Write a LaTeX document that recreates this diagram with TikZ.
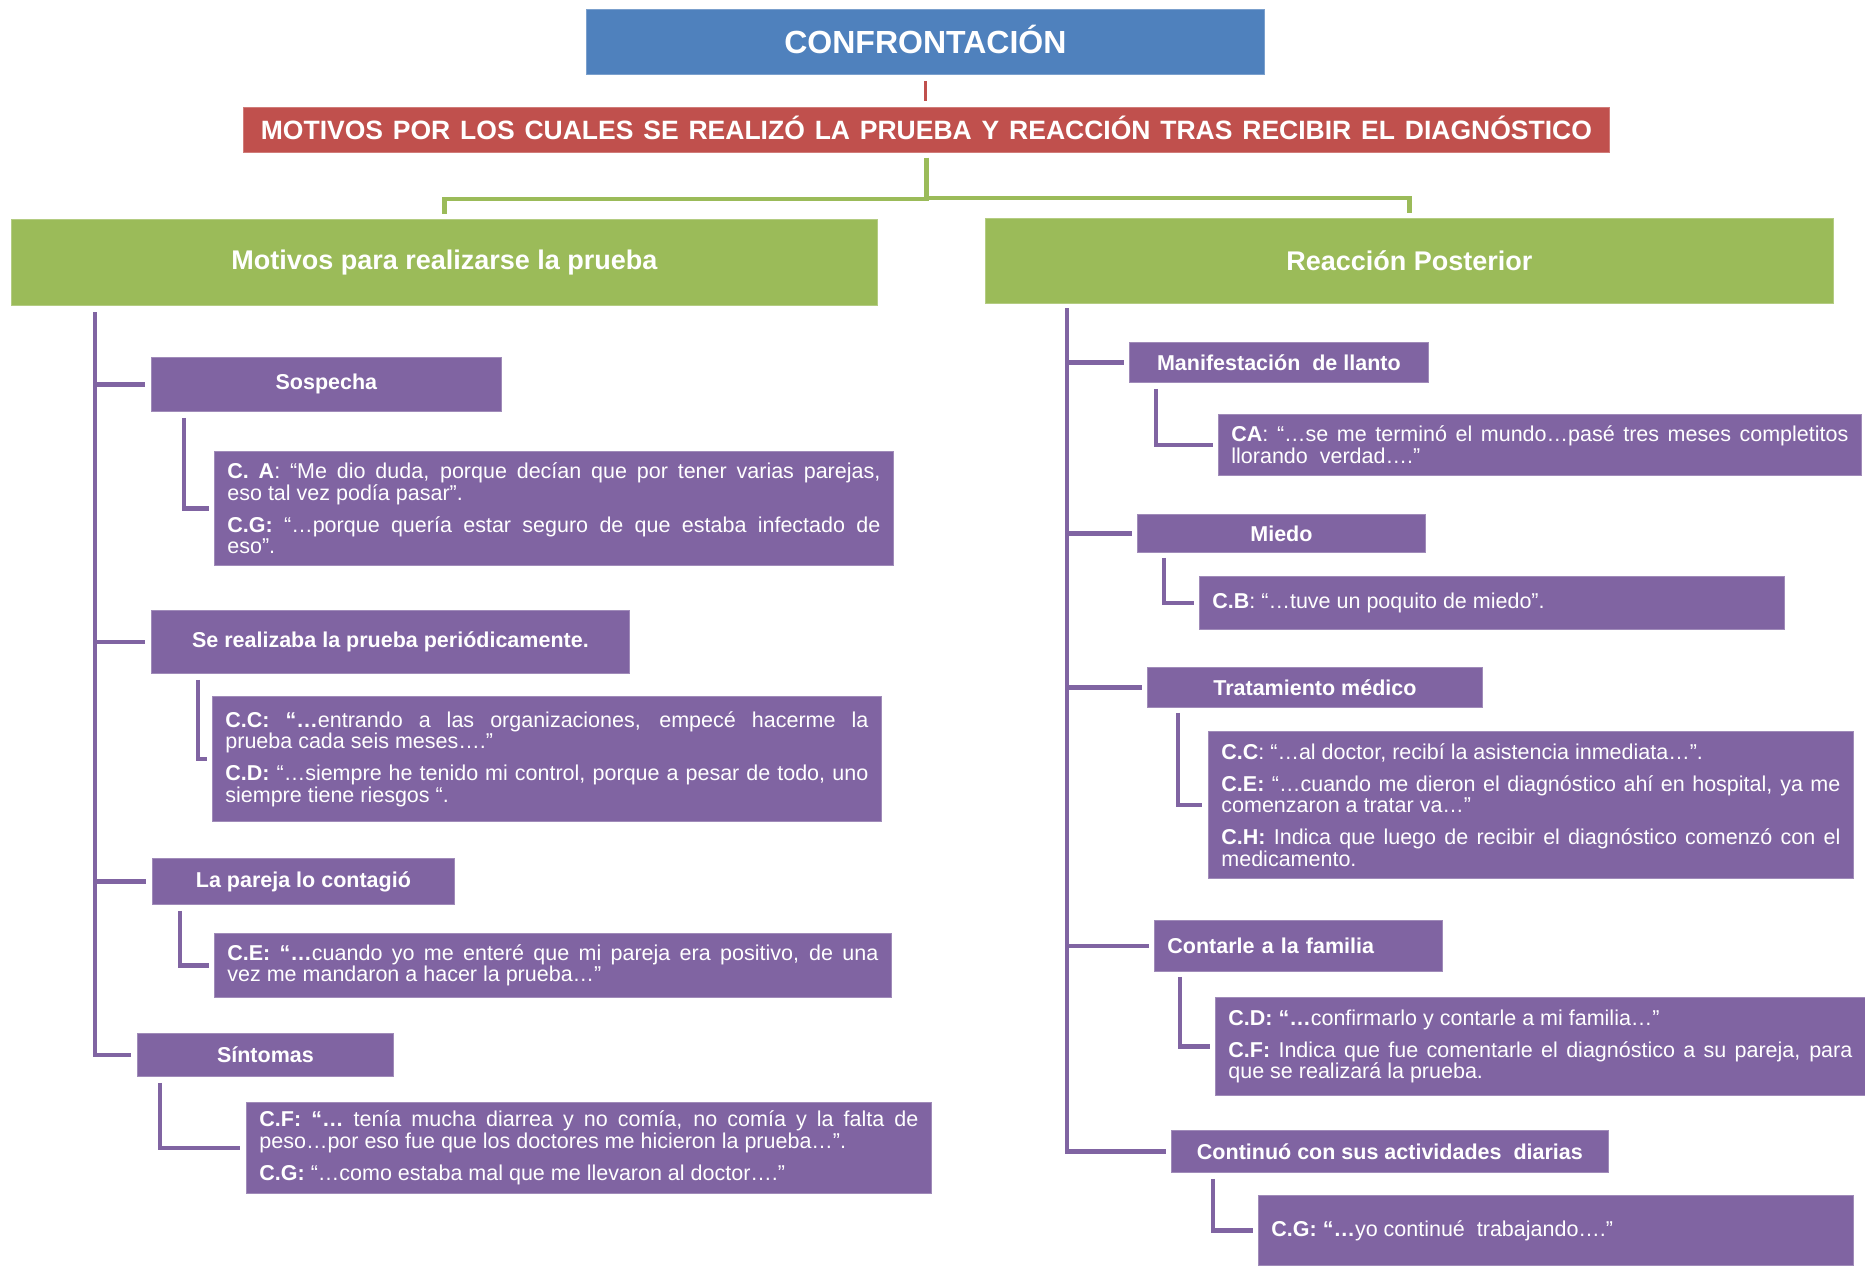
\documentclass[tikz,border=0pt]{standalone}
\usepackage{fontspec}
\setmainfont{Liberation Sans}
\definecolor{hdrblue}{HTML}{4F81BD}
\definecolor{hdrred}{HTML}{C0504D}
\definecolor{hdrgreen}{HTML}{9BBB59}
\definecolor{lila}{HTML}{8064A2}
\hyphenpenalty=10000
\exhyphenpenalty=10000
\tolerance=9999
\begin{document}
\begin{tikzpicture}[x=1pt,y=-1pt,
  topbox/.style={anchor=north west, inner sep=0pt, text=white},
  hdr/.style={anchor=north west, inner sep=0pt, text=white, fill=lila,
    draw=lila!75!white, line width=0.8pt,
    font=\bfseries\fontsize{21.5}{24}\selectfont},
  quote/.style={anchor=north west, inner xsep=13pt, inner ysep=0pt, text=white,
    align=justify, fill=lila, draw=lila!75!white, line width=0.8pt,
    font=\fontsize{21.5}{21.5}\selectfont},
  pline/.style={draw=lila, line width=4.5pt},
  gline/.style={draw=hdrgreen, line width=4.5pt},
  rline/.style={draw=hdrred, line width=3pt}
]
\useasboundingbox[fill=white] (0,0) rectangle (1865,1267);

% --- title levels ---
\node[topbox, fill=hdrblue, draw=hdrblue!75!white, line width=0.8pt,
  minimum width=678pt, minimum height=65pt, text height=23pt, text depth=0pt,
  font=\bfseries\fontsize{32}{36}\selectfont] (conf) at (586,9) {CONFRONTACIÓN};
\node[topbox, fill=hdrred, draw=hdrred!75!white, line width=0.8pt,
  minimum width=1366pt, minimum height=45pt, text height=19pt, text depth=0pt,
  font=\bfseries\fontsize{26.5}{30}\selectfont] (moti) at (243,107)
  {\makebox[1331pt][s]{MOTIVOS POR LOS CUALES SE REALIZÓ LA PRUEBA Y REACCIÓN TRAS RECIBIR EL DIAGNÓSTICO}};
\node[topbox, fill=hdrgreen, draw=hdrgreen!75!white, line width=0.8pt,
  minimum width=866pt, minimum height=86pt,
  font=\bfseries\fontsize{27}{30}\selectfont] (gl) at (11,219) {Motivos para realizarse la prueba};
\node[topbox, fill=hdrgreen, draw=hdrgreen!75!white, line width=0.8pt,
  minimum width=848pt, minimum height=85pt,
  font=\bfseries\fontsize{27}{30}\selectfont] (gr) at (985,218) {Reacción Posterior};

\draw[rline] ([yshift=-6pt]conf.south) -- ([yshift=6pt]conf.south |- moti.north);
\draw[gline] ([yshift=-5pt]moti.south) |- ([yshift=20pt]gl.north) -- ([yshift=5pt]gl.north);
\draw[gline] ([yshift=-5pt]moti.south) |- ([yshift=20pt]gr.north) -- ([yshift=5pt]gr.north);

% --- left column ---
\node[hdr, minimum width=350pt, minimum height=54pt] (sosp) at (151,357) {Sospecha};
\node[quote, text width=653pt, minimum height=114pt] (q1) at (214,451)
  {\textbf{C. A}: “Me dio duda, porque decían que por tener varias parejas,\linebreak
   eso tal vez podía pasar”.\par\vspace{10.5pt}
   \textbf{C.G:} “…porque quería estar seguro de que estaba infectado de\linebreak eso”.};

\node[hdr, minimum width=478pt, minimum height=63pt] (peri) at (151,610) {Se realizaba la prueba periódicamente.};
\node[quote, text width=643pt, minimum height=125pt] (q2) at (212,696)
  {\textbf{C.C: “…}entrando a las organizaciones, empecé hacerme la\linebreak
   prueba cada seis meses….”\par\vspace{10.5pt}
   \textbf{C.D:} “…siempre he tenido mi control, porque a pesar de todo, uno\linebreak
   siempre tiene riesgos “.};

\node[hdr, minimum width=302pt, minimum height=46pt] (pare) at (152,858) {La pareja lo contagió};
\node[quote, text width=651pt, minimum height=64pt] (q3) at (214,933)
  {\textbf{C.E: “…}cuando yo me enteré que mi pareja era positivo, de una\linebreak
   vez me mandaron a hacer la prueba…”};

\node[hdr, minimum width=256pt, minimum height=43pt] (sint) at (137,1033) {Síntomas};
\node[quote, text width=659pt, minimum height=91pt] (q4) at (246,1102)
  {\textbf{C.F: “…} tenía mucha diarrea y no comía, no comía y la falta de\linebreak
   peso…por eso fue que los doctores me hicieron la prueba…”.\par\vspace{10.5pt}
   \textbf{C.G:} “…como estaba mal que me llevaron al doctor….”};

\coordinate (spl) at (95,312);
\draw[pline] (spl) |- ([xshift=-6pt]sint.west);
\foreach \b in {sosp,peri,pare}
  \draw[pline] (spl |- \b.west) -- ([xshift=-6pt]\b.west);
\draw[pline] ([xshift=33pt,yshift=-6pt]sosp.south west) |- ([xshift=-5pt]q1.west);
\draw[pline] ([xshift=47pt,yshift=-6pt]peri.south west) |- ([xshift=-5pt]q2.west);
\draw[pline] ([xshift=28pt,yshift=-6pt]pare.south west) |- ([xshift=-5pt]q3.west);
\draw[pline] ([xshift=23pt,yshift=-6pt]sint.south west) |- ([xshift=-6pt]q4.west);

% --- right column ---
\node[hdr, minimum width=299pt, minimum height=40pt] (mani) at (1129,342) {Manifestación\ \ de llanto};
\node[quote, text width=617pt, minimum height=61pt] (r1) at (1218,414)
  {\textbf{CA}: “…se me terminó el mundo…pasé tres meses completitos\linebreak
   llorando\ \ verdad….”};

\node[hdr, minimum width=288pt, minimum height=38pt] (mied) at (1137,514) {Miedo};
\node[quote, text width=559pt, minimum height=53pt] (r2) at (1199,576)
  {\textbf{C.B}: “…tuve un poquito de miedo”.};

\node[hdr, minimum width=335pt, minimum height=40pt] (trat) at (1147,667) {Tratamiento médico};
\node[quote, text width=619pt, minimum height=147pt] (r3) at (1208,731)
  {\textbf{C.C}: “…al doctor, recibí la asistencia inmediata…”.\par\vspace{10.5pt}
   \textbf{C.E:} “…cuando me dieron el diagnóstico ahí en hospital, ya me\linebreak
   comenzaron a tratar va…”\par\vspace{10.5pt}
   \textbf{C.H:} Indica que luego de recibir el diagnóstico comenzó con el\linebreak
   medicamento.};

\node[hdr, minimum width=288pt, minimum height=51pt, text width=262pt, align=left,
  inner xsep=13pt] (fami) at (1154,920) {Contarle a la familia};
\node[quote, text width=624pt, minimum height=98pt] (r4) at (1215,997)
  {\textbf{C.D: “…}confirmarlo y contarle a mi familia…”\par\vspace{10.5pt}
   \textbf{C.F:} Indica que fue comentarle el diagnóstico a su pareja, para\linebreak
   que se realizará la prueba.};

\node[hdr, minimum width=437pt, minimum height=42pt] (cont) at (1171,1130) {Continuó con sus actividades\ \ diarias};
\node[quote, text width=569pt, minimum height=70pt] (r5) at (1258,1195)
  {\textbf{C.G: “…}yo continué\ \ trabajando….”};

\coordinate (spr) at (1067,308);
\draw[pline] (spr) |- ([xshift=-5pt]cont.west);
\foreach \b in {mani,mied,trat,fami}
  \draw[pline] (spr |- \b.west) -- ([xshift=-5pt]\b.west);
\draw[pline] ([xshift=27pt,yshift=-6pt]mani.south west) |- ([xshift=-5pt]r1.west);
\draw[pline] ([xshift=27pt,yshift=-5pt]mied.south west) |- ([xshift=-5pt]r2.west);
\draw[pline] ([xshift=31pt,yshift=-5pt]trat.south west) |- ([xshift=-6pt]r3.west);
\draw[pline] ([xshift=26pt,yshift=-5pt]fami.south west) |- ([xshift=-5pt]r4.west);
\draw[pline] ([xshift=42pt,yshift=-6pt]cont.south west) |- ([xshift=-5pt]r5.west);
\end{tikzpicture}
\end{document}
